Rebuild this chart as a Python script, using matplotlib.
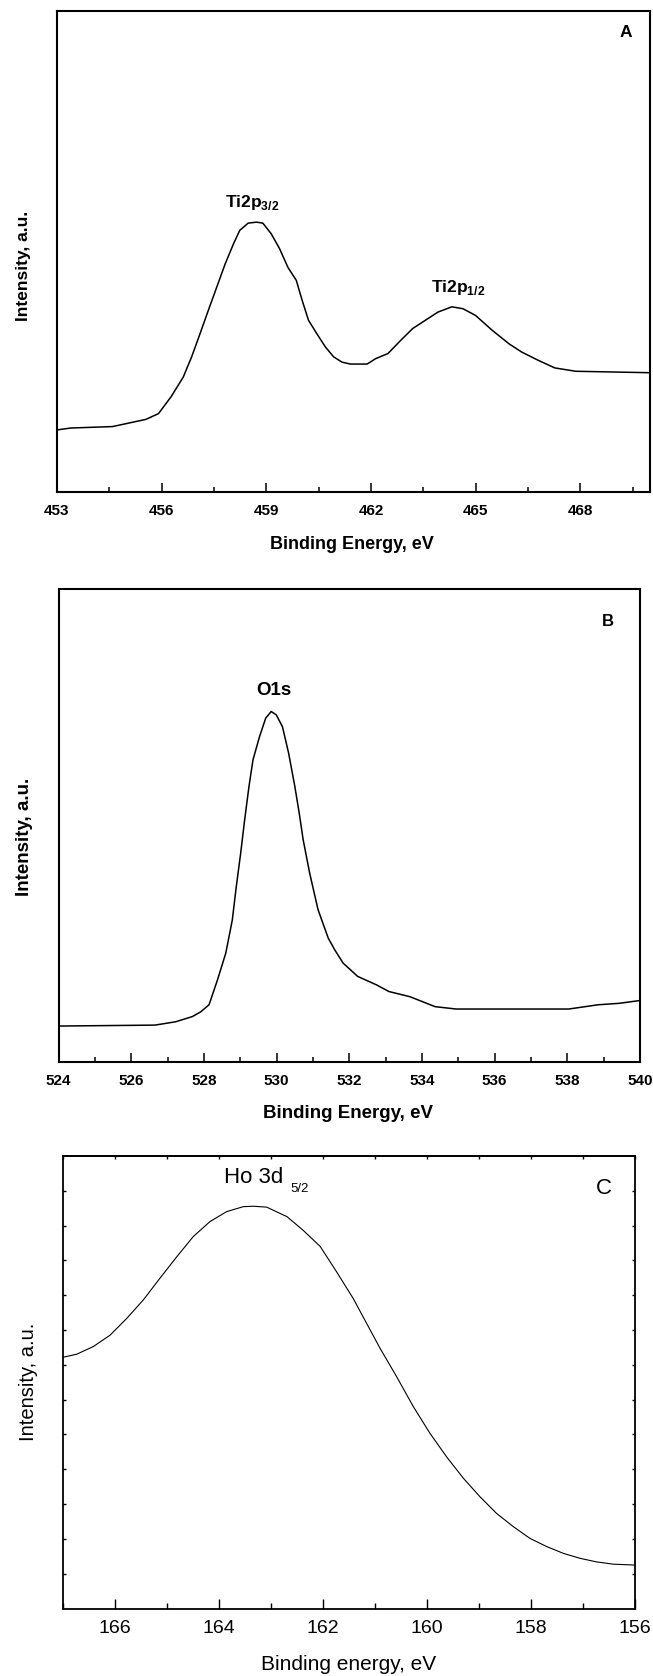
import matplotlib
matplotlib.use("Agg")
import matplotlib.pyplot as plt
from matplotlib.ticker import MultipleLocator, NullLocator, FixedLocator, NullFormatter
import numpy as np

plt.rcParams["font.family"] = ["Liberation Sans", "DejaVu Sans"]
plt.rcParams["mathtext.fontset"] = "custom"
plt.rcParams["mathtext.rm"] = "Liberation Sans:bold"
plt.rcParams["mathtext.bf"] = "Liberation Sans:bold"

# --- panel A: Ti 2p ---
ti_be = [453.0, 453.39, 454.59, 455.55, 455.91, 456.27, 456.62, 456.86, 457.10,
         457.34, 457.58, 457.82, 458.06, 458.24, 458.48, 458.72, 458.90, 459.14,
         459.38, 459.62, 459.86, 460.03, 460.21, 460.45, 460.69, 460.93, 461.17,
         461.41, 461.89, 462.13, 462.49, 462.85, 463.20, 463.56, 463.92, 464.32,
         464.64, 465.00, 465.48, 465.96, 466.32, 466.79, 467.27, 467.87, 470.0]
ti_int = [12.9, 13.3, 13.6, 15.1, 16.3, 19.8, 23.9, 28.1, 32.9,
          37.8, 42.6, 47.4, 51.6, 54.4, 55.9, 56.1, 55.9, 53.7,
          50.6, 46.7, 44.0, 39.8, 35.7, 32.9, 30.2, 28.1, 27.0,
          26.6, 26.6, 27.7, 28.8, 31.5, 34.0, 35.7, 37.4, 38.5,
          38.1, 36.7, 33.6, 30.8, 29.1, 27.4, 25.8, 25.1, 24.8]

# --- panel B: O 1s ---
o_be = [524.0, 526.65, 527.22, 527.68, 527.91, 528.14, 528.37, 528.60, 528.78,
        528.89, 529.01, 529.12, 529.24, 529.35, 529.53, 529.70, 529.85, 529.99,
        530.16, 530.33, 530.50, 530.62, 530.73, 530.91, 531.14, 531.42, 531.60,
        531.83, 532.23, 532.75, 533.09, 533.67, 534.36, 534.94, 536.20, 538.04,
        538.85, 539.42, 540.0]
o_int = [7.6, 7.8, 8.5, 9.6, 10.6, 12.1, 17.3, 23.0, 30.0,
         37.1, 44.1, 51.2, 58.3, 63.9, 68.8, 72.7, 74.1, 73.4,
         70.9, 65.3, 58.3, 52.7, 47.0, 39.9, 32.2, 26.2, 23.7,
         20.9, 18.1, 16.3, 14.9, 13.8, 11.7, 11.2, 11.2, 11.2,
         12.1, 12.4, 13.0]

# --- panel C: Ho 3d5/2 ---
ho_be = [167.0, 166.73, 166.41, 166.09, 165.77, 165.45, 165.13, 164.81, 164.49,
         164.17, 163.85, 163.53, 163.34, 163.08, 162.69, 162.38, 162.05, 161.73,
         161.41, 161.21, 160.90, 160.58, 160.26, 159.94, 159.62, 159.30, 158.98,
         158.66, 158.34, 158.02, 157.70, 157.38, 157.06, 156.74, 156.42, 156.0]
ho_int = [55.5, 56.2, 57.9, 60.4, 64.1, 68.2, 73.0, 77.7, 82.2,
          85.5, 87.7, 88.8, 88.9, 88.7, 86.6, 83.6, 80.0, 74.3,
          68.4, 64.1, 57.5, 51.2, 44.6, 38.7, 33.5, 28.8, 24.7,
          21.0, 18.1, 15.5, 13.7, 12.2, 11.1, 10.3, 9.8, 9.6]

W, H = 653, 1676
fig = plt.figure(figsize=(W / 100, H / 100), dpi=100)


def box(l, t, r, b):
    return [l / W, 1 - b / H, (r - l) / W, (b - t) / H]


bold = dict(fontweight="bold", family="Liberation Sans")


def style_bold_axes(ax):
    ax.yaxis.set_major_locator(NullLocator())
    ax.tick_params(axis="x", which="major", direction="in", length=6.5, width=1.1,
                   pad=8.5)
    ax.tick_params(axis="x", which="minor", direction="in", length=3.5, width=1.1)
    for lab in ax.get_xticklabels():
        lab.set_fontweight("bold")
        lab.set_fontsize(11)
    for s in ax.spines.values():
        s.set_linewidth(1.5)


# panel A
ax = fig.add_axes(box(57, 11, 650, 492))
ax.plot(ti_be, ti_int, color="black", lw=1.1)
ax.set_xlim(453, 470)
ax.set_ylim(0, 100)
ax.xaxis.set_major_locator(FixedLocator([453, 456, 459, 462, 465, 468]))
ax.xaxis.set_minor_locator(FixedLocator([454.5, 457.5, 460.5, 463.5, 466.5, 469.5]))
style_bold_axes(ax)
ax.set_xlabel("Binding Energy, eV", fontsize=13, va="center", **bold)
ax.xaxis.set_label_coords(0.497, -0.110)
ax.set_ylabel("Intensity, a.u.", fontsize=12.5, va="center", **bold)
ax.yaxis.set_label_coords(-0.057, 0.47)
ax.text(0.959, 0.955, "A", transform=ax.transAxes, ha="center", va="center",
        fontsize=12.5, **bold)
ax.text(458.6, 58.2, r"Ti2p$_{\mathbf{3/2}}$", ha="center", va="bottom",
        fontsize=12.5, **bold)
ax.text(464.5, 40.5, r"Ti2p$_{\mathbf{1/2}}$", ha="center", va="bottom",
        fontsize=12.5, **bold)

# panel B
ax = fig.add_axes(box(58.6, 589, 640, 1062))
ax.plot(o_be, o_int, color="black", lw=1.1)
ax.set_xlim(524, 540)
ax.set_ylim(0, 100)
ax.xaxis.set_major_locator(MultipleLocator(2))
ax.xaxis.set_minor_locator(MultipleLocator(1))
style_bold_axes(ax)
ax.set_xlabel("Binding Energy, eV", fontsize=13.5, va="center", **bold)
ax.xaxis.set_label_coords(0.497, -0.108)
ax.set_ylabel("Intensity, a.u.", fontsize=13.5, va="center", **bold)
ax.yaxis.set_label_coords(-0.058, 0.476)
ax.text(0.945, 0.931, "B", transform=ax.transAxes, ha="center", va="center",
        fontsize=12, **bold)
ax.text(529.93, 78.6, "O1s", ha="center", va="center", fontsize=13.5, **bold)

# panel C
ax = fig.add_axes(box(62.7, 1156, 635, 1608.5))
ax.plot(ho_be, ho_int, color="black", lw=0.8)
ax.set_xlim(167, 156)
ax.set_ylim(0, 100)
ax.xaxis.set_major_locator(MultipleLocator(2))
ax.xaxis.set_minor_locator(MultipleLocator(1))
ax.yaxis.set_major_locator(FixedLocator(np.linspace(0, 100, 14)[1:-1]))
ax.yaxis.set_major_formatter(NullFormatter())
ax.tick_params(axis="x", which="major", direction="in", length=7, width=1.0,
               labelsize=14, pad=8)
ax.tick_params(axis="x", which="minor", direction="in", length=4, width=1.0)
ax.tick_params(axis="y", which="major", direction="in", length=2.5, width=1.0,
               left=True, right=True)
top = ax.secondary_xaxis("top")
top.xaxis.set_major_locator(MultipleLocator(1))
top.xaxis.set_major_formatter(NullFormatter())
top.tick_params(direction="in", length=2.5, width=1.0)
for s in list(ax.spines.values()) + [top.spines["top"]]:
    s.set_linewidth(1.3)
ax.set_xlabel("Binding energy, eV", fontsize=15, va="center")
ax.xaxis.set_label_coords(0.5, -0.123)
ax.set_ylabel("Intensity, a.u.", fontsize=14.5, va="center")
ax.yaxis.set_label_coords(-0.060, 0.5)
ax.text(0.945, 0.929, "C", transform=ax.transAxes, ha="center", va="center",
        fontsize=16)
ax.text(163.9, 95.3, "Ho 3d", ha="left", va="center", fontsize=16)
ax.text(162.62, 92.6, "5/2", ha="left", va="center", fontsize=9.5)

fig.savefig("out.png", dpi=100)
